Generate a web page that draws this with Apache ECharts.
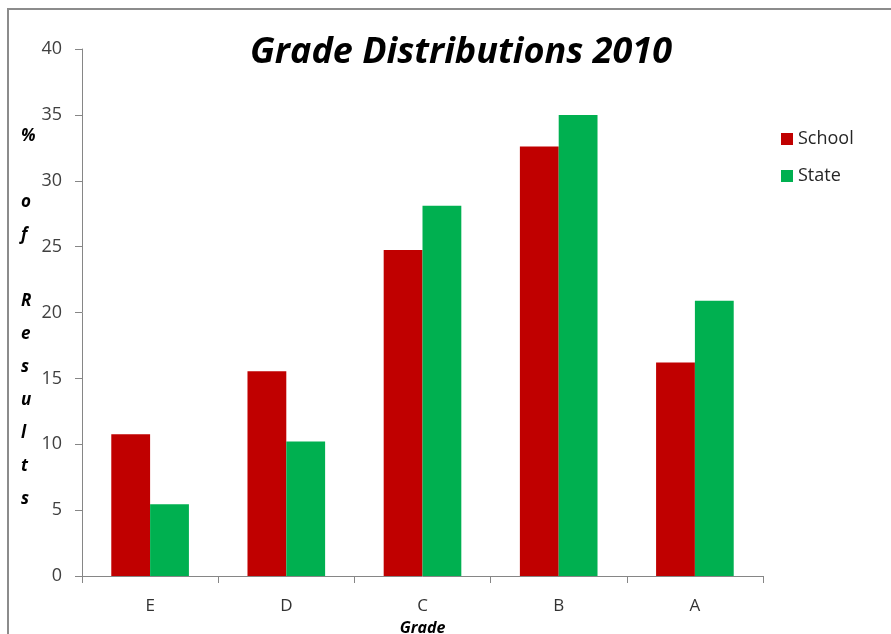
<!DOCTYPE html>
<html>
<head>
<meta charset="utf-8">
<script src="https://cdn.jsdelivr.net/npm/echarts@6/dist/echarts.min.js"></script>
<style>
  html, body { margin: 0; padding: 0; background: #fff; }
  #chart { width: 891px; height: 634px; }
</style>
</head>
<body>
<div id="chart"></div>
<script>
// Grade distribution: share of results per grade, school vs state
const grades = ['E', 'D', 'C', 'B', 'A'];
const schoolPct = [10.75, 15.55, 24.75, 32.6, 16.2];
const statePct = [5.45, 10.2, 28.1, 35.0, 20.9];
const yTicks = { min: 0, max: 40, interval: 5 };

const FONT = '"Open Sans", "Liberation Sans", sans-serif';
const axisGrey = '#868686';

const chart = echarts.init(document.getElementById('chart'), null, { renderer: 'canvas' });

chart.setOption({
  backgroundColor: '#fff',
  animation: false,
  title: {
    text: 'Grade Distributions 2010',
    left: 456,
    top: 30,
    textAlign: 'center',
    textStyle: { fontFamily: FONT, fontSize: 36, fontWeight: 'bold', fontStyle: 'italic', color: '#000' }
  },
  legend: {
    orient: 'vertical',
    left: 776,
    top: 125,
    itemWidth: 12,
    itemHeight: 12,
    itemGap: 19,
    icon: 'rect',
    textStyle: { fontFamily: FONT, fontSize: 18, color: '#262626' },
    data: ['School', 'State']
  },
  grid: { left: 82, top: 49, width: 681, height: 527, containLabel: false, outerBoundsMode: 'none' },
  xAxis: {
    type: 'category',
    data: grades,
    name: 'Grade',
    nameLocation: 'middle',
    nameGap: 44,
    nameTextStyle: { fontFamily: FONT, fontSize: 16, fontWeight: 'bold', fontStyle: 'italic', color: '#000' },
    axisLine: { lineStyle: { color: axisGrey, width: 1 } },
    axisTick: { show: true, length: 7, lineStyle: { color: axisGrey } },
    axisLabel: { fontFamily: FONT, fontSize: 17, color: '#333', margin: 22 },
    splitLine: { show: false }
  },
  yAxis: {
    type: 'value',
    min: yTicks.min,
    max: yTicks.max,
    interval: yTicks.interval,
    axisLine: { show: true, lineStyle: { color: axisGrey, width: 1 } },
    axisTick: { show: true, length: 7, lineStyle: { color: axisGrey } },
    axisLabel: { fontFamily: FONT, fontSize: 18, color: '#404040', margin: 20 },
    splitLine: { show: false }
  },
  graphic: [
    {
      type: 'rect',
      shape: { x: 8, y: 9, width: 1000, height: 800 },
      style: { fill: 'none', stroke: '#8c8c8c', lineWidth: 2 },
      silent: true,
      z: -1
    },
    {
      type: 'text',
      left: 21,
      top: 120,
      style: {
        text: '%\n \no\nf\n \nR\ne\ns\nu\nl\nt\ns',
        font: 'italic bold 17px ' + FONT,
        lineHeight: 33,
        fill: '#000',
        align: 'left'
      }
    }
  ],
  series: [
    {
      name: 'School',
      type: 'bar',
      data: schoolPct,
      barGap: '0%',
      barCategoryGap: '43%',
      itemStyle: { color: '#c00000' }
    },
    {
      name: 'State',
      type: 'bar',
      data: statePct,
      itemStyle: { color: '#00b050' }
    }
  ]
});
</script>
</body>
</html>
